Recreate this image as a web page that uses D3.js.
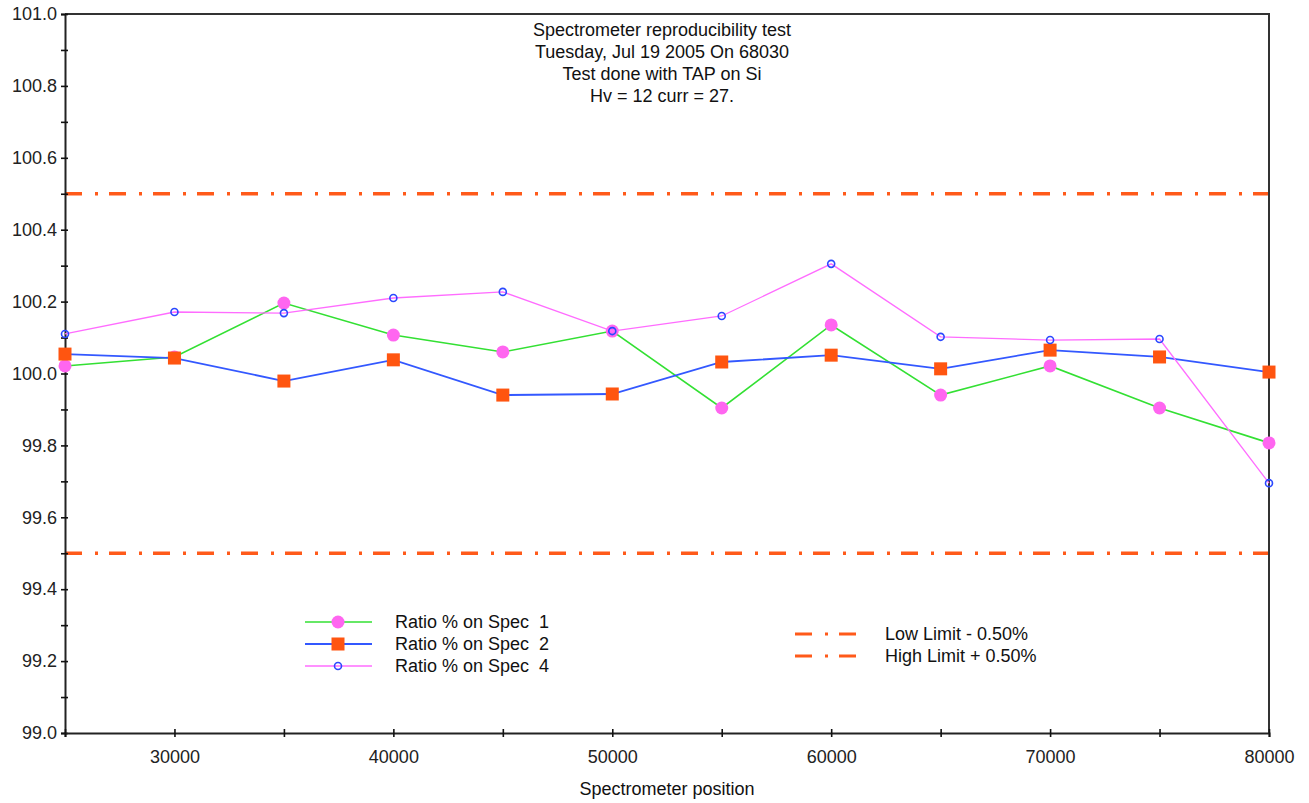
<!DOCTYPE html>
<html>
<head>
<meta charset="utf-8">
<script src="https://cdn.jsdelivr.net/npm/d3@7"></script>
<style>
  body { margin: 0; background: #fff; }
  text { font-family: "Liberation Sans", Arial, sans-serif; fill: #111; white-space: pre; }
</style>
</head>
<body>
<div id="chart"></div>
<script>
// data
var positions = [25000, 30000, 35000, 40000, 45000, 50000, 55000, 60000, 65000, 70000, 75000, 80000]
var spec1 = [100.021, 100.046, 100.196, 100.107, 100.060, 100.118, 99.904, 100.135, 99.940, 100.021, 99.904, 99.807]
var spec2 = [100.054, 100.043, 99.979, 100.038, 99.940, 99.943, 100.032, 100.051, 100.013, 100.065, 100.046, 100.004]
var spec4 = [100.110, 100.171, 100.168, 100.210, 100.227, 100.118, 100.160, 100.305, 100.102, 100.093, 100.096, 99.695]
var lowLimit = 99.5
var highLimit = 100.5
var xTicks = [30000, 40000, 50000, 60000, 70000, 80000]
var titleLines = ["Spectrometer reproducibility test", "Tuesday, Jul 19 2005 On 68030", "Test done with TAP on Si", "Hv = 12 curr = 27."]

var width = 1309
var height = 803
var margin = { left: 65, right: 40, top: 14, bottom: 70 }

var svg = d3.select("#chart")
    .append("svg")
    .attr("width", width)
    .attr("height", height)

var x = d3.scaleLinear().domain([25000, 80000]).range([margin.left, width - margin.right])
var y = d3.scaleLinear().domain([99.0, 101.0]).range([height - margin.bottom, margin.top])

var limitColor = "#ff5a1a"

// limit lines
;[lowLimit, highLimit].forEach(function (v) {
    svg.append("line")
        .attr("x1", x(25000)).attr("x2", x(80000))
        .attr("y1", y(v)).attr("y2", y(v))
        .style("stroke", limitColor)
        .style("stroke-width", 3.5)
        .style("stroke-dasharray", "17,13,3,11")
})

// frame (top and right)
svg.append("path")
    .attr("d", "M" + x(25000) + "," + y(101) + "H" + x(80000) + "V" + y(99))
    .style("fill", "none").style("stroke", "#333").style("stroke-width", 2)

// y axis
var yAxis = svg.append("g")
    .attr("transform", "translate(" + x(25000) + ",0)")
    .call(d3.axisLeft(y).tickValues(d3.range(99.0, 101.05, 0.1)).tickSize(4)
        .tickFormat(function (d) {
            var r = Math.round(d * 10)
            return r % 2 === 0 ? d3.format(".1f")(d) : ""
        }))
yAxis.selectAll(".tick line").attr("x1", 3).style("stroke", "#111").style("stroke-width", 1.6)
yAxis.selectAll(".tick text").attr("x", -8).style("font-size", "18px").style("fill", "#222")
yAxis.select(".domain").style("stroke", "#222").style("stroke-width", 2)

// x axis
var xAxis = svg.append("g")
    .attr("transform", "translate(0," + y(99) + ")")
    .call(d3.axisBottom(x).tickValues(d3.range(25000, 80001, 5000)).tickSize(4)
        .tickFormat(function (d) { return xTicks.indexOf(d) >= 0 ? d : "" }))
xAxis.selectAll(".tick line").attr("y1", -4).style("stroke", "#111").style("stroke-width", 1.6)
xAxis.selectAll(".tick text").attr("y", 17).style("font-size", "18px").style("fill", "#222")
xAxis.select(".domain").style("stroke", "#222").style("stroke-width", 2)

// axis label
svg.append("text")
    .attr("x", (x(25000) + x(80000)) / 2).attr("y", 795)
    .attr("text-anchor", "middle")
    .style("font-size", "18px")
    .text("Spectrometer position")

// title
svg.selectAll(".title").data(titleLines).enter().append("text")
    .attr("class", "title")
    .attr("x", 662)
    .attr("y", function (d, i) { return 36 + i * 22 })
    .attr("text-anchor", "middle")
    .style("font-size", "18px")
    .text(function (d) { return d })

var line = d3.line().x(function (d, i) { return x(positions[i]) }).y(function (d) { return y(d) })

var series = [
    { name: "Ratio % on Spec  1", values: spec1, color: "#33e033", width: 1.6, marker: "dot" },
    { name: "Ratio % on Spec  2", values: spec2, color: "#3358ff", width: 1.8, marker: "square" },
    { name: "Ratio % on Spec  4", values: spec4, color: "#ff6cff", width: 1.3, marker: "ring" }
]

function drawMarker(g, type, cx, cy) {
    if (type === "dot") {
        g.append("circle").attr("cx", cx).attr("cy", cy).attr("r", 6.5).style("fill", "#ff66f0")
    } else if (type === "square") {
        g.append("rect").attr("x", cx - 6.5).attr("y", cy - 6.5).attr("width", 13).attr("height", 13).style("fill", "#ff5510")
    } else {
        g.append("circle").attr("cx", cx).attr("cy", cy).attr("r", 3.5)
            .style("fill", "none").style("stroke", "#2a48ff").style("stroke-width", 1.6)
    }
}

series.forEach(function (s) {
    svg.append("path")
        .attr("d", line(s.values))
        .style("fill", "none")
        .style("stroke", s.color)
        .style("stroke-width", s.width)
    var g = svg.append("g")
    s.values.forEach(function (v, i) { drawMarker(g, s.marker, x(positions[i]), y(v)) })
})

// legend for series
series.forEach(function (s, i) {
    var ly = 622 + i * 22
    svg.append("line").attr("x1", 305).attr("x2", 372).attr("y1", ly).attr("y2", ly)
        .style("stroke", s.color).style("stroke-width", s.width)
    drawMarker(svg.append("g"), s.marker, 338, ly)
    svg.append("text").attr("x", 395).attr("y", ly + 6).style("font-size", "18px").text(s.name)
})

// legend for limits
;["Low Limit - 0.50%", "High Limit + 0.50%"].forEach(function (t, i) {
    var ly = 634 + i * 22
    svg.append("line").attr("x1", 795).attr("x2", 860).attr("y1", ly).attr("y2", ly)
        .style("stroke", limitColor).style("stroke-width", 3)
        .style("stroke-dasharray", "17,13,3,11")
    svg.append("text").attr("x", 885).attr("y", ly + 6).style("font-size", "18px").text(t)
})
</script>
</body>
</html>
